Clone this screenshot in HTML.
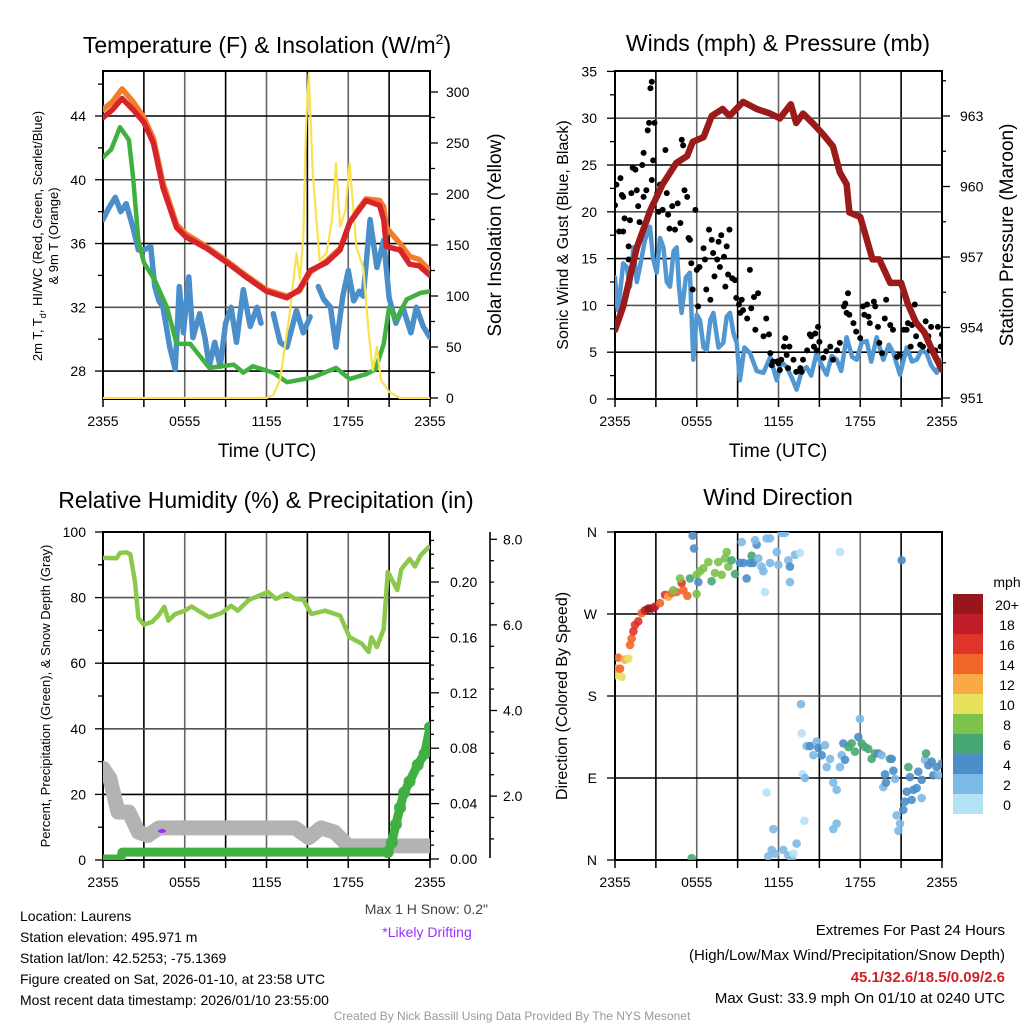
<!DOCTYPE html>
<html><head><meta charset="utf-8"><style>
html,body{margin:0;padding:0;background:#fff;}
svg{display:block;font-family:"Liberation Sans",Arial,sans-serif;}
</style></head><body>
<svg id="c" width="1024" height="1024" viewBox="0 0 1024 1024" xmlns="http://www.w3.org/2000/svg">
<defs>
<clipPath id="cp1"><rect x="103" y="71" width="327" height="328"/></clipPath>
<clipPath id="cp2"><rect x="615" y="71" width="327" height="328"/></clipPath>
<clipPath id="cp3"><rect x="103" y="532" width="327" height="328"/></clipPath>
<clipPath id="cp4"><rect x="615" y="532" width="327" height="328"/></clipPath>
</defs>
<text x="267" y="53" font-size="23" text-anchor="middle">Temperature (F) &amp; Insolation (W/m<tspan font-size="14" dy="-9">2</tspan><tspan dy="9">)</tspan></text>
<text x="778" y="51" font-size="23" text-anchor="middle">Winds (mph) &amp; Pressure (mb)</text>
<text x="266" y="508" font-size="23" text-anchor="middle">Relative Humidity (%) &amp; Precipitation (in)</text>
<text x="778" y="505" font-size="23" text-anchor="middle">Wind Direction</text>

<text x="267" y="457" font-size="19" text-anchor="middle">Time (UTC)</text>
<text x="778" y="457" font-size="19" text-anchor="middle">Time (UTC)</text>

<text transform="translate(42,236) rotate(-90)" font-size="13" text-anchor="middle">2m T, T<tspan font-size="9" dy="4">d</tspan><tspan dy="-4">, HI/WC (Red, Green, Scarlet/Blue)</tspan></text>
<text transform="translate(58,236) rotate(-90)" font-size="13" text-anchor="middle">&amp; 9m T (Orange)</text>
<text transform="translate(501,235) rotate(-90)" font-size="19" text-anchor="middle">Solar Insolation (Yellow)</text>
<text transform="translate(568,235) rotate(-90)" font-size="16" text-anchor="middle">Sonic Wind &amp; Gust (Blue, Black)</text>
<text transform="translate(1013,235) rotate(-90)" font-size="19" text-anchor="middle">Station Pressure (Maroon)</text>
<text transform="translate(50,696) rotate(-90)" font-size="13" text-anchor="middle">Percent, Precipitation (Green), &amp; Snow Depth (Gray)</text>
<text transform="translate(567,696) rotate(-90)" font-size="16" text-anchor="middle">Direction (Colored By Speed)</text>

<g font-size="14">
<text x="20" y="921">Location: Laurens</text>
<text x="20" y="942">Station elevation: 495.971 m</text>
<text x="20" y="963">Station lat/lon: 42.5253; -75.1369</text>
<text x="20" y="984">Figure created on Sat, 2026-01-10, at 23:58 UTC</text>
<text x="20" y="1005">Most recent data timestamp: 2026/01/10 23:55:00</text>
</g>
<text x="488" y="914" font-size="14" fill="#444" text-anchor="end">Max 1 H Snow: 0.2"</text>
<text x="427" y="937" font-size="14" fill="#9b30ff" text-anchor="middle">*Likely Drifting</text>
<g font-size="15" text-anchor="end">
<text x="1005" y="935">Extremes For Past 24 Hours</text>
<text x="1005" y="960">(High/Low/Max Wind/Precipitation/Snow Depth)</text>
<text x="1005" y="982" font-weight="bold" fill="#d0202a">45.1/32.6/18.5/0.09/2.6</text>
<text x="1005" y="1003">Max Gust: 33.9 mph On 01/10 at 0240 UTC</text>
</g>
<text x="512" y="1020" font-size="12" fill="#999" text-anchor="middle">Created By Nick Bassill Using Data Provided By The NYS Mesonet</text>
</svg>
<script>
// ---------- Panel 1 data ----------
const tempHours=[0,0.7,1.4,2.2,3,3.7,4.4,5.4,6.1,7.6,9.1,10.5,12,13.5,14.4,15.2,16.4,17.4,18.1,18.7,19.3,20.3,20.6,20.8,21.8,22.5,23.2,24];
const tempRed=[43.9,44.4,45.1,44.4,43.6,42.3,39.5,37.0,36.4,35.7,34.8,33.9,33.0,32.6,33.1,34.3,34.8,35.6,37.3,38.0,38.7,38.4,37.5,35.8,35.6,34.7,34.6,34.0];
const temp9mOrange=[44.4,44.9,45.7,44.9,43.9,42.6,39.8,37.2,36.6,35.8,34.9,34.0,33.1,32.7,33.0,34.2,34.9,35.7,37.3,38.1,38.8,38.7,38.3,37.0,36.0,35.2,35.0,34.3];
const dewHours=[0,0.6,1.25,1.9,2.2,2.6,3,3.8,4.7,5.4,6.4,7.8,9.6,10.3,11,12.5,13.5,15.4,17.1,18.1,19.3,20,20.6,21,21.5,22.3,23.3,24];
const dewGreen=[41.4,41.9,43.3,42.5,40.2,36.2,34.8,33.7,32.0,29.7,29.7,28.2,28.4,27.9,28.3,27.9,27.3,27.6,28.2,27.5,27.8,28.1,29.7,32.0,31.2,32.5,32.9,33.0];
const wcHours=[0,0.4,0.9,1.3,1.7,2.2,2.6,3.0,3.5,3.8,4.1,4.4,4.9,5.3,5.6,5.9,6.3,6.6,7.1,7.5,7.8,8.2,8.6,9,9.4,9.8,10.3,10.8,11.3,11.6,12.0,12.5,13,13.5,14.2,14.7,15.2,15.5,15.8,16.2,16.7,17.1,17.6,18,18.4,18.8,19.1,19.6,20.1,20.6,21,21.5,22,22.6,23,23.5,24];
const wcBlue=[37.5,38.2,38.9,38.0,38.5,37.0,35.6,35.6,35.8,33.3,32.4,32.0,29.5,28.1,33.3,30.4,33.9,30.1,31.6,30.0,28.3,29.8,28.3,31.0,32.0,29.8,33.1,30.8,32.0,31.0,null,31.6,29.8,29.5,31.8,30.4,31.4,null,33.3,32.5,32.0,29.5,32.7,34.3,32.4,33.0,32.7,37.5,34.5,36.2,32.6,31.0,32.0,30.4,32.0,30.8,30.1];
const solarHours=[0,12,12.5,13,13.7,14.2,14.45,14.7,14.9,15.1,15.4,15.9,16.4,16.8,17.1,17.4,17.8,18.1,18.6,19.1,19.5,19.8,20.1,20.4,21,21.8,24];
const solarYellow=[0,0,3,18,83,142,116,158,266,318,220,135,142,174,230,168,184,230,148,128,64,27,50,18,6,0,0];
const timeTicks=["2355","0555","1155","1755","2355"];
const tempTicks=[28,32,36,40,44];
const solarTicks=[0,50,100,150,200,250,300];
// ---------- Panel 2 data ----------
const presHours=[0,0.6,1.6,2.6,3.5,4.5,5.3,5.7,6.5,7.1,7.9,8.4,9.4,10.4,11.4,12.1,12.9,13.3,13.8,14.5,15.3,16,16.5,17,17.2,18,18.5,18.9,19.4,20.2,21,21.5,22.1,22.7,23.3,24];
const presMb=[953.9,954.9,957.4,959.0,960.1,961.0,961.3,961.9,962.1,963.0,963.3,963.0,963.6,963.3,963.1,962.9,963.5,962.7,963.1,962.7,962.2,961.7,960.6,960.1,958.9,958.7,957.7,956.9,956.9,955.9,955.9,955.0,954.2,953.8,953.0,952.2];
const windHours=[0,0.2,0.37,0.6,0.86,1.1,1.35,1.6,1.83,2.2,2.57,2.8,3.06,3.3,3.55,3.8,4.04,4.3,4.53,4.7,4.89,5.2,5.50,5.75,6.0,6.24,6.5,6.73,7.0,7.22,7.6,7.95,8.2,8.44,8.7,8.93,9.17,9.5,9.91,10.4,10.89,11.4,11.87,12.2,12.60,13.0,13.33,13.7,14.07,14.4,14.80,15.2,15.54,15.9,16.27,16.6,17.00,17.4,17.74,18.1,18.47,18.8,19.21,19.69,20.1,20.43,20.92,21.41,21.8,22.14,22.5,22.87,23.2,23.61,24];
const windMph=[13.0,9.5,11.3,14.5,14.1,12.0,16.2,12.5,14.1,17.0,18.4,15.0,13.5,17.2,16.2,12.5,12.0,15.8,16.2,12.0,9.2,13.0,13.5,4.2,9.0,8.4,5.5,5.2,8.5,9.2,5.5,6.0,8.8,9.2,7.0,6.0,2.0,5.5,4.9,3.0,2.8,4.5,2.0,4.0,3.4,2.2,1.0,3.0,3.4,2.5,4.9,3.5,2.6,4.6,4.2,3.0,6.6,4.5,4.2,6.0,6.2,4.0,6.6,4.2,5.8,4.9,2.6,5.5,4.0,4.2,5.2,4.9,3.6,2.8,4.2];
const gustHours=[0.0,0.1,0.4,0.5,0.6,0.3,0.6,0.7,1.0,1.0,1.1,1.2,1.3,1.5,1.6,1.7,1.8,2.0,2.1,2.1,2.3,2.4,2.5,2.6,2.7,2.9,2.8,2.7,3.1,3.2,3.3,3.5,3.7,3.8,3.9,4.0,4.2,4.4,4.6,4.8,4.9,5.0,5.1,5.3,5.4,5.5,5.9,5.6,5.7,6.0,6.1,6.2,6.5,6.6,6.7,6.9,7.0,7.1,7.2,7.3,7.5,7.6,7.7,7.8,8.0,8.1,8.2,8.3,8.4,8.6,8.8,8.9,9.1,9.2,9.3,9.4,9.7,9.9,10.0,10.2,10.3,10.5,10.9,11.1,11.3,11.4,11.5,11.6,11.9,12.0,12.1,12.2,12.4,12.5,12.6,12.7,12.8,13.1,13.3,13.6,13.7,13.8,14.1,14.3,14.4,14.6,14.7,14.8,14.9,15.0,15.3,15.5,15.8,16.0,16.3,16.5,16.8,16.9,17.0,17.1,17.2,17.5,17.7,18.0,18.2,18.3,18.5,18.6,18.7,19.0,19.1,19.3,19.4,19.6,19.8,19.9,20.2,20.4,20.7,20.9,21.2,21.4,21.5,21.7,21.8,22.0,22.1,22.4,22.6,22.8,23.0,23.1,23.2,23.5,23.7,23.9,24.0];
const gustMph=[20.7,22.9,23.6,21.8,21.6,17.9,17.9,19.3,16.3,14.9,19.1,22.0,24.7,24.5,22.3,20.6,18.9,25.0,26.3,21.6,22.3,28.7,29.5,33.2,33.9,29.5,25.5,23.4,22.0,20.0,22.9,20.2,26.6,22.0,19.7,18.2,20.6,18.1,20.9,18.8,27.7,27.1,22.3,21.6,17.2,17.0,20.2,14.5,11.7,13.8,9.9,14.1,16.1,14.9,11.7,18.1,10.6,17.0,15.6,13.1,14.9,16.8,14.1,17.5,15.2,12.0,16.3,13.3,18.1,12.9,12.7,10.8,10.1,9.2,10.6,9.5,8.6,13.8,9.7,10.9,7.4,11.3,6.7,8.6,6.9,4.9,3.6,4.0,4.0,3.8,3.1,4.2,5.6,6.5,4.7,3.3,5.6,4.2,2.9,3.3,2.9,4.2,5.2,6.9,6.7,5.6,7.0,5.2,7.7,6.1,4.4,5.1,5.6,4.2,5.2,6.0,9.9,10.2,9.2,11.3,9.0,8.1,7.2,6.5,9.9,9.0,10.1,8.8,8.1,10.4,9.9,7.7,6.0,4.9,8.6,10.6,7.9,7.4,4.5,4.7,7.4,7.4,8.1,5.6,7.9,10.1,6.7,5.8,5.6,8.3,6.7,5.2,7.7,5.2,7.7,5.6,6.9];
const windTicks=[0,5,10,15,20,25,30,35];
const presTicks=[951,954,957,960,963];
// ---------- Panel 3 data ----------
const rhHours=[0,1,1.25,1.7,2,2.35,2.6,3,3.6,4.1,4.5,4.8,5.3,6,6.5,7.2,7.8,8.7,9.4,9.9,10.7,11.4,12.1,12.7,13.5,14.1,14.7,15.3,16.3,17.4,18.1,19,19.5,19.7,20.1,20.6,20.9,21.3,21.6,21.9,22.5,22.9,23.3,23.9];
const rhPct=[92.1,92,93.6,93.8,93.2,84.8,73.8,71.7,72.6,74.7,77.2,73.0,75.0,76,77.3,75.5,74.0,75.3,77.5,76,79.3,80.5,81.7,79.6,81.2,79.6,79.3,75,76,74.5,67.9,65.9,63.4,67.9,64.9,70.4,87.8,84.8,82.3,88.7,91.8,89.5,92.8,95.4];
const snowHours=[0,0.5,1.1,1.9,2.6,3.3,4.1,14.1,15.1,16,17,18,24];
const snowGray=[28,25,14.6,14.6,8.5,7.5,9.8,9.8,6.8,9.8,8.5,4.3,4.3];
const precHours=[0,1.3,1.4,20.9,21.2,21.5,21.8,22.1,22.5,23.1,23.6,24];
const precIn=[0,0,0.005,0.005,0.012,0.025,0.037,0.048,0.056,0.068,0.076,0.095];
const rhTicks=[0,20,40,60,80,100];
const precTicks=["0.00","0.04","0.08","0.12","0.16","0.20"];
const snowTicks=["2.0","4.0","6.0","8.0"];
// ---------- Panel 4 data ----------
const dirHours=[0,0.12,0.49,0.37,0.24,0.73,0.98,1.10,1.22,1.35,1.47,1.71,1.96,2.20,2.45,2.69,2.94,3.30,3.67,3.91,4.16,4.53,4.89,5.02,5.31,4.28,4.77,5.50,5.99,5.99,6.12,6.24,6.48,6.85,7.09,7.34,7.58,7.83,8.07,8.20,8.32,8.56,8.81,9.17,9.42,9.66,9.91,10.03,10.15,10.40,10.28,10.52,10.76,10.89,11.01,11.13,11.38,11.38,9.30,11.87,11.99,12.23,12.48,12.72,12.84,12.84,13.21,13.58,16.51,21.04,5.70,5.80,5.63,
13.65,13.70,14.07,14.31,14.56,14.80,14.92,15.17,15.41,15.54,15.78,13.77,13.94,11.13,11.62,13.90,16.02,16.27,16.02,16.27,16.51,16.64,16.76,16.88,17.13,17.37,17.61,17.86,17.98,18.10,18.35,18.59,18.84,19.08,19.33,19.57,19.69,19.89,19.82,20.18,20.31,20.55,20.43,20.67,20.80,20.92,21.16,21.28,21.41,21.53,21.65,21.77,21.90,22.14,22.26,22.51,22.51,22.75,22.83,23.00,23.24,23.36,23.61,23.73,23.98,
11.25,11.50,11.74,12.35,12.72,12.97,13.09,13.33];
const dirDeg=[203,210,201,210,222,220,221,236,243,251,258,262,271,274,276,276,278,282,291,289,293,294,304,296,290,296,309,309,292,313,305,317,320,327,306,315,327,313,331,338,322,329,314,326,326,309,326,334,326,346,351,331,322,317,294,353,326,353,349,338,324,359,359,329,322,305,335,337,338,329,356,342,2,
171,139,125,125,115,130,123,115,126,102,111,94,90,74,34,43,85,77,34,40,102,115,128,110,124,128,119,135,155,128,124,122,111,117,117,115,80,85,94,111,111,89,98,49,32,40,55,64,75,102,91,66,77,79,97,68,88,110,117,104,108,93,102,93,106,
4,11,7,11,5,2,7,18];
const dirSpeed=[10,12,10,14,14,12,10,13,14,16,16,16,14,17,19,19,17,13,16,12,13,14,16,14,14,8,8,6,8,8,4,8,8,8,6,8,8,8,8,8,8,6,6,4,4,4,4,6,4,4,2,2,2,2,0,2,2,2,2,2,2,2,2,2,4,2,2,0,0,4,4,4,6,
2,0,2,4,2,2,4,4,2,2,2,0,2,0,2,0,2,2,2,2,2,2,4,4,6,6,6,4,2,6,6,6,6,6,4,2,2,4,4,6,4,2,4,2,2,2,4,4,4,6,4,4,4,4,4,2,4,2,6,4,4,4,4,2,4,
2,2,2,2,2,2,0,2];
const dirTicks=["N","E","S","W","N"];
const speedBins=["0","2","4","6","8","10","12","14","16","18","20+"];
const speedColors=["#b5e3f6","#7db9e5","#4b8ec8","#47a773","#7dc24b","#e6e15a","#f9aa47","#f26528","#e0332a","#bf1d2a","#98151c"];

// ---------- helpers ----------
const NS="http://www.w3.org/2000/svg";
const svg=document.getElementById('c');
function mk(tag,attrs,parent){const e=document.createElementNS(NS,tag);for(const k in attrs)e.setAttribute(k,attrs[k]);(parent||svg).appendChild(e);return e;}
function txt(x,y,s,size,anchor,parent){const t=mk('text',{x:x,y:y,'font-size':size,'text-anchor':anchor},parent);t.textContent=s;return t;}
function pathFrom(xs,ys,fx,fy){let d='',pen=false;for(let i=0;i<xs.length;i++){if(ys[i]===null||ys[i]===undefined){pen=false;continue;}d+=(pen?'L':'M')+fx(xs[i]).toFixed(1)+' '+fy(ys[i]).toFixed(1);pen=true;}return d;}
const W=327,H=328;
function xScale(x0){return h=>x0+h*W/24;}

function frame(x0,y0,name,hLines){
  const g=mk('g',{});
  
  
  for(let k=1;k<8;k++){const x=x0+k*W/8;mk('line',{x1:x,y1:y0,x2:x,y2:y0+H,stroke:(k%2?'#000':'#666'),'stroke-width':1.6},g);}
  hLines.forEach((y,i)=>{mk('line',{x1:x0,y1:y,x2:x0+W,y2:y,stroke:(i%2?'#555':'#000'),'stroke-width':1.6},g);});
  const f=mk('rect',{x:x0,y:y0,width:W,height:H,fill:'none',stroke:'#000','stroke-width':2});
  
  
  const xt=mk('g',{});
  
  
  for(let k=0;k<=8;k++){const x=x0+k*W/8;mk('line',{x1:x,y1:y0+H,x2:x,y2:y0+H+8,stroke:'#000','stroke-width':1.5},xt);}
  timeTicks.forEach((s,i)=>{txt(x0+i*W/4,y0+H+27,s,14,'middle',xt);});
}

// ---------- Panel 1 ----------
(function(){
  const X=xScale(103),Y=t=>116+(44-t)*15.94,Ys=s=>398-s*1.02;
  frame(103,71,'temp-panel',tempTicks.map(Y));
  const ax=mk('g',{});
  
  
  for(let t=28;t<=46;t+=2){const y=Y(t);mk('line',{x1:103,y1:y,x2:t%4===0?95:98,y2:y,stroke:'#000','stroke-width':1.3},ax);}
  tempTicks.forEach(t=>txt(86,Y(t)+5,String(t),14,'end',ax));
  const ar=mk('g',{});
  
  
  for(let s=0;s<=300;s+=25){const y=Ys(s);mk('line',{x1:430,y1:y,x2:s%50===0?438:435,y2:y,stroke:'#000','stroke-width':1.3},ar);}
  solarTicks.forEach(s=>txt(446,Ys(s)+5,String(s),14,'start',ar));
  const g=mk('g',{'clip-path':'url(#cp1)','fill':'none','stroke-linejoin':'round','stroke-linecap':'round'});
  const wc=mk('path',{d:pathFrom(wcHours,wcBlue,X,Y),stroke:'#4a8fca','stroke-width':5.5},g);
  
  
  const dp=mk('path',{d:pathFrom(dewHours,dewGreen,X,Y),stroke:'#41b040','stroke-width':4.5},g);
  
  
  const sol=mk('path',{d:pathFrom(solarHours,solarYellow,X,Ys),stroke:'#f9e150','stroke-width':2.2},g);
  
  
  const o=mk('path',{d:pathFrom(tempHours,temp9mOrange,X,Y),stroke:'#f47b2a','stroke-width':5.5},g);
  
  
  const r=mk('path',{d:pathFrom(tempHours,tempRed,X,Y),stroke:'#d5242a','stroke-width':5.5},g);
  
  
})();

// ---------- Panel 2 ----------
(function(){
  const X=xScale(615),Y=w=>399-w*9.36,Yp=p=>398-(p-951)*23.5;
  frame(615,71,'wind-panel',[5,10,15,20,25,30].map(Y));
  const ax=mk('g',{});
  
  
  for(let w=0;w<=35;w+=2.5){const y=Y(w);mk('line',{x1:615,y1:y,x2:w%5===0?607:610,y2:y,stroke:'#000','stroke-width':1.3},ax);}
  windTicks.forEach(w=>txt(597,Y(w)+5,String(w),14,'end',ax));
  const ar=mk('g',{});
  
  
  for(let p=951;p<=964.5;p+=1.5){const y=Yp(p);mk('line',{x1:942,y1:y,x2:(p-951)%3===0?950:946,y2:y,stroke:'#000','stroke-width':1.3},ar);}
  presTicks.forEach(p=>txt(960,Yp(p)+5,String(p),14,'start',ar));
  const g=mk('g',{'clip-path':'url(#cp2)','fill':'none','stroke-linejoin':'round','stroke-linecap':'round'});
  const wl=mk('path',{d:pathFrom(windHours,windMph,X,Y),stroke:'#5197d1','stroke-width':4.5},g);
  
  
  const gg=mk('g',{},g);
  
  
  for(let i=0;i<gustHours.length;i++){
    const c=mk('circle',{cx:X(gustHours[i]),cy:Y(gustMph[i]),r:3,fill:'#000'},gg);
    
    
  }
  const pl=mk('path',{d:pathFrom(presHours,presMb,X,Yp),stroke:'#9b1a1a','stroke-width':6.5},g);
  
  
})();

// ---------- Panel 3 ----------
(function(){
  const X=xScale(103),Y=v=>860-v*3.28,Yi=v=>859-v*1385,Ysn=v=>881.7-v*42.8;
  frame(103,532,'humidity-panel',[20,40,60,80].map(Y));
  const ax=mk('g',{});
  
  
  for(let v=0;v<=100;v+=10){const y=Y(v);mk('line',{x1:103,y1:y,x2:v%20===0?95:98,y2:y,stroke:'#000','stroke-width':1.3},ax);}
  rhTicks.forEach(v=>txt(86,Y(v)+5,String(v),14,'end',ax));
  const ar=mk('g',{});
  
  
  for(let k=0;k<=23;k++){const v=k*0.01;const y=Yi(v);mk('line',{x1:429,y1:y,x2:k%4===0?439:434,y2:y,stroke:'#000','stroke-width':1.3},ar);}
  precTicks.forEach(s=>txt(450,Yi(parseFloat(s))+5,s,14,'start',ar));
  const as=mk('g',{});
  
  
  mk('line',{x1:490,y1:532,x2:490,y2:858,stroke:'#000','stroke-width':1.6},as);
  for(let k=2;k<=16;k++){const v=k*0.5;const y=Ysn(v);mk('line',{x1:490,y1:y,x2:k%4===0?497:494,y2:y,stroke:'#000','stroke-width':1.3},as);}
  snowTicks.forEach(s=>txt(503,Ysn(parseFloat(s))+5,s,14,'start',as));
  const g=mk('g',{'clip-path':'url(#cp3)','fill':'none','stroke-linejoin':'round','stroke-linecap':'round'});
  const sn=mk('path',{d:pathFrom(snowHours,snowGray,X,Y),stroke:'#b3b3b3','stroke-width':15},g);
  
  
  const dr=mk('ellipse',{cx:162,cy:831,rx:4,ry:2,fill:'#9b30ff'},g);
  
  
  const pr=mk('path',{d:pathFrom(precHours,precIn,X,Yi),stroke:'#41b042','stroke-width':9},g);
  
  
  for(let i=3;i<precHours.length;i++){
    const c=mk('circle',{cx:X(precHours[i]),cy:Yi(precIn[i]),r:6,fill:'#41b042'},g);
    
    
  }
  const rh=mk('path',{d:pathFrom(rhHours,rhPct,X,Y),stroke:'#8bc84b','stroke-width':4.5},g);
  
  
})();

// ---------- Panel 4 ----------
(function(){
  const X=xScale(615),Y=d=>860-d*H/360;
  frame(615,532,'direction-panel',[90,180,270].map(Y));
  const ax=mk('g',{});
  
  
  dirTicks.forEach((s,i)=>{const y=Y(i*90);mk('line',{x1:615,y1:y,x2:607,y2:y,stroke:'#000','stroke-width':1.3},ax);txt(597,y+5,s,14,'end',ax);});
  const g=mk('g',{'clip-path':'url(#cp4)'});
  
  
  const n=Math.min(dirHours.length,dirDeg.length,dirSpeed.length);
  for(let i=0;i<n;i++){
    const bin=Math.min(10,Math.round(dirSpeed[i]/2));
    const c=mk('circle',{cx:X(dirHours[i]),cy:Y(dirDeg[i]),r:4.3,fill:speedColors[bin],'fill-opacity':0.9},g);
    
    
  }
  const lg=mk('g',{});
  
  
  txt(1007,587,'mph',14,'middle',lg);
  for(let b=0;b<11;b++){
    const y=794-b*20;
    const r=mk('rect',{x:953,y:y,width:30,height:20,fill:speedColors[b]},lg);
    
    
    txt(1007,y+16,speedBins[b],14,'middle',lg);
  }
})();
</script>
</body></html>
